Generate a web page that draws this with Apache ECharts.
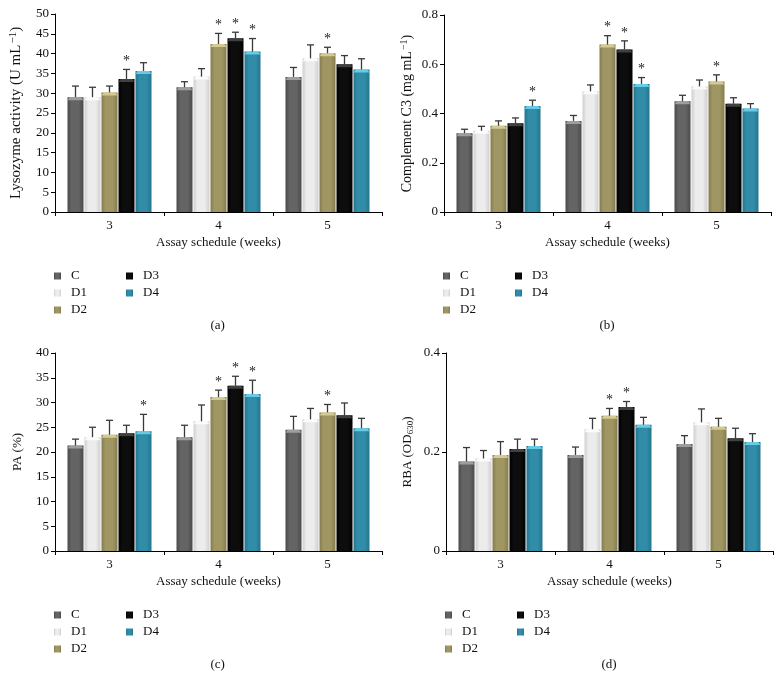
<!DOCTYPE html>
<html>
<head>
<meta charset="utf-8">
<script src="https://cdn.jsdelivr.net/npm/echarts@6/dist/echarts.min.js"></script>
<style>html,body{margin:0;padding:0;background:#fff}#c{width:782px;height:685px}</style>
</head>
<body>
<div id="c"></div>
<script>
const categories = ['3', '4', '5'];
const groupNames = ['C', 'D1', 'D2', 'D3', 'D4'];

// Lysozyme activity (U mL-1): rows = C, D1, D2, D3, D4 ; columns = weeks 3,4,5
const lysozymeMean = [
  [29.0, 31.5, 34.1],
  [29.0, 34.2, 38.8],
  [30.2, 42.4, 40.1],
  [33.6, 43.9, 37.3],
  [35.6, 40.5, 36.0]
];
const lysozymeSD = [
  [2.8, 1.4, 2.4],
  [2.5, 2.0, 3.4],
  [1.6, 2.7, 1.5],
  [2.4, 1.5, 2.2],
  [2.1, 3.3, 2.7]
];
const lysozymeStars = [[0, 3], [1, 2], [1, 3], [1, 4], [2, 2]];

// Complement C3 (mg mL-1)
const c3Mean = [
  [0.32, 0.37, 0.45],
  [0.33, 0.49, 0.51],
  [0.35, 0.68, 0.53],
  [0.36, 0.66, 0.44],
  [0.43, 0.52, 0.42]
];
const c3SD = [
  [0.016, 0.022, 0.024],
  [0.018, 0.026, 0.026],
  [0.020, 0.036, 0.027],
  [0.022, 0.035, 0.024],
  [0.024, 0.026, 0.020]
];
const c3Stars = [[0, 4], [1, 2], [1, 3], [1, 4], [2, 2]];

// PA (%)
const paMean = [
  [21.3, 23.0, 24.5],
  [23.0, 26.2, 26.6],
  [23.5, 31.1, 28.0],
  [23.8, 33.4, 27.4],
  [24.2, 31.7, 24.8]
];
const paSD = [
  [1.3, 2.4, 2.7],
  [2.0, 3.3, 2.2],
  [2.9, 1.4, 1.6],
  [1.6, 1.9, 2.5],
  [3.4, 2.8, 2.0]
];
const paStars = [[0, 4], [1, 2], [1, 3], [1, 4], [2, 2]];

// RBA (OD630)
const rbaMean = [
  [0.181, 0.194, 0.216],
  [0.187, 0.246, 0.260],
  [0.194, 0.273, 0.251],
  [0.206, 0.291, 0.228],
  [0.212, 0.255, 0.220]
];
const rbaSD = [
  [0.028, 0.016, 0.017],
  [0.016, 0.022, 0.027],
  [0.027, 0.015, 0.017],
  [0.020, 0.011, 0.020],
  [0.014, 0.015, 0.017]
];
const rbaStars = [[1, 2], [1, 3]];

const lysozymeTicks = {min: 0, max: 50, interval: 5};
const c3Ticks = {min: 0, max: 0.8, interval: 0.2};
const paTicks = {min: 0, max: 40, interval: 5};
const rbaTicks = {min: 0, max: 0.4, interval: 0.2};

const FONT = 'Liberation Serif';
const BAR_W = 16, STEP = 17;

const palette = [
  {edge: '#4a4a4a', base: '#646464', top: '#a8a8a8'},
  {edge: '#cfcfcf', base: '#ececec', top: '#ffffff'},
  {edge: '#857c4e', base: '#a09663', top: '#ddd49a'},
  {edge: '#000000', base: '#0d0d0d', top: '#4a4a4a'},
  {edge: '#23758e', base: '#318ca8', top: '#6fd6f2'}
];
function grad(p) {
  return {type: 'linear', x: 0, y: 0, x2: 1, y2: 0, colorStops: [
    {offset: 0, color: p.edge}, {offset: 0.25, color: p.base},
    {offset: 0.7, color: p.base}, {offset: 1, color: p.edge}]};
}

const panels = [
  {mean: lysozymeMean, sd: lysozymeSD, stars: lysozymeStars, ticks: lysozymeTicks,
   grid: {left: 55, top: 14, width: 327, height: 198}, nameSize: 15,
   name: 'Lysozyme activity (U mL{sup|−1})', nameGap: 30, label: '(a)', fmt: v => String(v)},
  {mean: c3Mean, sd: c3SD, stars: c3Stars, ticks: c3Ticks,
   grid: {left: 444, top: 15, width: 327, height: 197}, nameSize: 14,
   name: 'Complement C3 (mg mL{sup|−1})', nameGap: 29, label: '(b)', fmt: v => v === 0 ? '0' : v.toFixed(1)},
  {mean: paMean, sd: paSD, stars: paStars, ticks: paTicks,
   grid: {left: 55, top: 353, width: 327, height: 198}, nameSize: 13,
   name: 'PA (%)', nameGap: 31, label: '(c)', fmt: v => String(v)},
  {mean: rbaMean, sd: rbaSD, stars: rbaStars, ticks: rbaTicks,
   grid: {left: 446, top: 353, width: 327, height: 198}, nameSize: 13,
   name: 'RBA (OD{sub|630})', nameGap: 31, label: '(d)', fmt: v => v === 0 ? '0' : v.toFixed(1)}
];

const grids = [], xAxes = [], yAxes = [], series = [], legends = [], graphics = [];
const textBase = {fontFamily: FONT, fontSize: 13, color: '#111'};

panels.forEach((p, pi) => {
  grids.push(Object.assign({containLabel: false}, p.grid));
  xAxes.push({
    type: 'category', gridIndex: pi, data: categories,
    name: 'Assay schedule (weeks)', nameLocation: 'middle', nameGap: 24,
    nameTextStyle: textBase,
    axisLine: {lineStyle: {color: '#000', width: 1}},
    axisTick: {show: true, alignWithLabel: false, length: 4, lineStyle: {color: '#000'}},
    axisLabel: Object.assign({margin: 7}, textBase),
    splitLine: {show: false}
  });
  const subSize = Math.round(p.nameSize * 0.7);
  yAxes.push({
    type: 'value', gridIndex: pi, min: p.ticks.min, max: p.ticks.max, interval: p.ticks.interval,
    name: p.name, nameLocation: 'middle', nameGap: p.nameGap, nameRotate: 90,
    nameTextStyle: Object.assign({}, textBase, {fontSize: p.nameSize, rich: {
      sup: {fontFamily: FONT, fontSize: subSize, color: '#111', verticalAlign: 'top', padding: [0, 0, 6, 1]},
      sub: {fontFamily: FONT, fontSize: subSize, color: '#111', padding: [6, 0, 0, 0]}
    }}),
    axisLine: {show: true, lineStyle: {color: '#000', width: 1}},
    axisTick: {show: true, length: 4, lineStyle: {color: '#000'}},
    axisLabel: Object.assign({margin: 6, formatter: p.fmt}, textBase),
    splitLine: {show: false}
  });
  groupNames.forEach((g, si) => {
    series.push({
      type: 'bar', name: g, xAxisIndex: pi, yAxisIndex: pi,
      data: p.mean[si], barWidth: BAR_W, barGap: '6.25%',
      itemStyle: {color: grad(palette[si])},
      emphasis: {disabled: true}, animation: false
    });
  });
  const errData = [];
  groupNames.forEach((g, si) => {
    categories.forEach((c, ci) => {
      const star = p.stars.some(s => s[0] === ci && s[1] === si) ? 1 : 0;
      errData.push([ci, si, p.mean[si][ci], p.sd[si][ci], star]);
    });
  });
  series.push({
    type: 'custom', xAxisIndex: pi, yAxisIndex: pi, data: errData,
    encode: {x: 0, y: 2}, clip: false, z: 5, animation: false, silent: true,
    renderItem: (params, api) => {
      const ci = api.value(0), si = api.value(1), m = api.value(2), sd = api.value(3), st = api.value(4);
      const base = api.coord([ci, m]);
      const x = base[0] + (si - 2) * STEP;
      const yTop = base[1];
      const yErr = api.coord([ci, m + sd])[1];
      const h = BAR_W / 2;
      const children = [
        {type: 'polygon', shape: {points: [[x - h, yTop + 3], [x - h + 2, yTop], [x + h - 2, yTop], [x + h, yTop + 3]]},
         style: {fill: palette[si].top, opacity: 0.85}},
        {type: 'line', shape: {x1: x, y1: yTop, x2: x, y2: yErr}, style: {stroke: '#3a3a3a', lineWidth: 1.3}},
        {type: 'line', shape: {x1: x - 3.5, y1: yErr, x2: x + 3.5, y2: yErr}, style: {stroke: '#3a3a3a', lineWidth: 1.3}}
      ];
      if (st) {
        children.push({type: 'text', x: x, y: yErr - 1,
          style: {text: '*', fontFamily: FONT, fontSize: 14, fill: '#222', align: 'center', verticalAlign: 'bottom'}});
      }
      return {type: 'group', children: children};
    }
  });
  const axisLeft = p.grid.left;
  const axisBottom = p.grid.top + p.grid.height;
  const legCommon = {
    orient: 'vertical', icon: 'rect', itemWidth: 7, itemHeight: 7, itemGap: 3,
    selectedMode: false, padding: 0,
    textStyle: {fontFamily: FONT, fontSize: 13, color: '#111', lineHeight: 14, padding: [0, 0, 0, 5]}
  };
  legends.push(Object.assign({}, legCommon, {data: ['C', 'D1', 'D2'], left: axisLeft - 1, top: axisBottom + 57}));
  legends.push(Object.assign({}, legCommon, {data: ['D3', 'D4'], left: axisLeft + 71, top: axisBottom + 57}));
  graphics.push({type: 'text', left: p.grid.left + p.grid.width / 2 - 8, top: axisBottom + 107,
    style: {text: p.label, fontFamily: FONT, fontSize: 13, fill: '#111'}});
});

const chart = echarts.init(document.getElementById('c'), null, {renderer: 'canvas'});
chart.setOption({
  backgroundColor: '#fff', animation: false,
  grid: grids, xAxis: xAxes, yAxis: yAxes, series: series, legend: legends, graphic: graphics
});
</script>
</body>
</html>
